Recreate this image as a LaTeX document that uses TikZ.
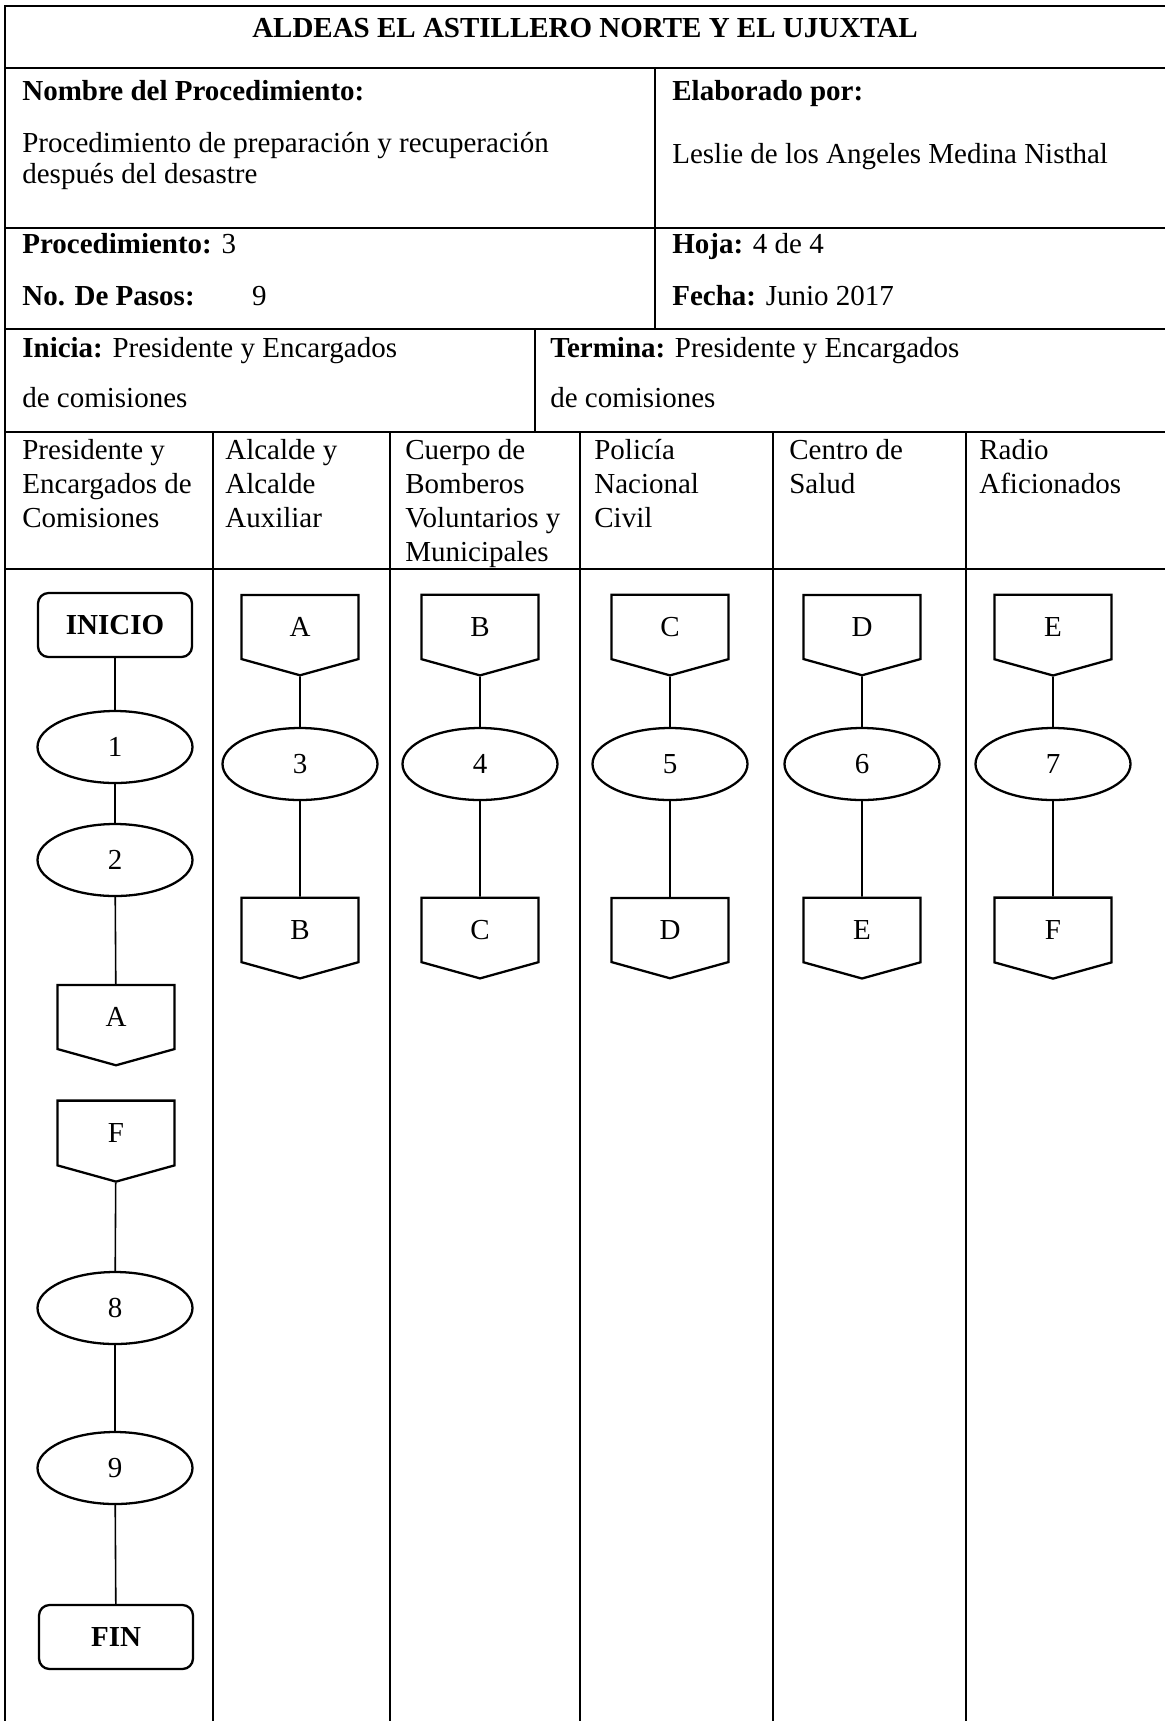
\documentclass[tikz,border=0pt]{standalone}
\usepackage{fontspec}
\setmainfont{Liberation Serif}
\usetikzlibrary{positioning,shapes.geometric,shapes.symbols}
\tikzset{
  cellline/.style={line width=.9pt},
  celltext/.style={anchor=base west,inner sep=0pt},
  celltop/.style={anchor=north west,inner sep=0pt,align=left},
  stepoval/.style={draw,ellipse,line width=1.3pt,minimum width=3.1cm,minimum height=1.44cm,inner sep=0pt},
  termbox/.style={draw,rectangle,rounded corners=6pt,line width=1.3pt,minimum width=3.08cm,minimum height=1.28cm,inner sep=0pt,font=\bfseries\fontsize{16.5}{19.4}\selectfont},
  pageref/.style={draw,signal,signal to=south,signal pointer angle=149,line width=1.3pt,minimum width=2.34cm,minimum height=1.34cm,inner sep=0pt},
  link/.style={line width=.9pt},
}

\begin{document}
\begin{tikzpicture}[x=0.2mm,y=-0.2mm,every node/.style={font=\fontsize{16.5}{19.4}\selectfont}]
  \useasboundingbox (0,0) rectangle (1165,1721);

  % table rules
  \draw[cellline] (1165,6) -- (5,6) -- (5,1721);
  \draw[cellline] (5,68) -- (1165,68);
  \draw[cellline] (5,228) -- (1165,228);
  \draw[cellline] (5,329) -- (1165,329);
  \draw[cellline] (5,432) -- (1165,432);
  \draw[cellline] (5,569) -- (1165,569);
  \draw[cellline] (655,68) -- (655,329);
  \draw[cellline] (535,329) -- (535,432);
  \draw[cellline] (213,432) -- (213,1721);
  \draw[cellline] (390,432) -- (390,1721);
  \draw[cellline] (580,432) -- (580,1721);
  \draw[cellline] (773,432) -- (773,1721);
  \draw[cellline] (966,432) -- (966,1721);

  % header texts
  \node[anchor=base,inner sep=0pt] (title) at (585,37) {\textbf{ALDEAS EL ASTILLERO NORTE Y EL UJUXTAL}};
  \node[celltext] (nombre) at (22,100) {\textbf{Nombre del Procedimiento:}};
  \node[celltop,font=\fontsize{16.5}{17.6}\selectfont] (nombretxt) at (22,132)
    {Procedimiento de preparación y recuperación\\después del desastre};
  \node[celltext] (elab) at (672,100) {\textbf{Elaborado por:}};
  \node[celltext] (elabtxt) at (672,163) {Leslie de los Angeles Medina Nisthal};
  \node[celltext] (proc) at (22,253) {\textbf{Procedimiento:} 3};
  \node[celltext] (pasos) at (22,305) {\textbf{No. De Pasos:}\hspace{1.15cm}9};
  \node[celltext] (hoja) at (672,253) {\textbf{Hoja:} 4 de 4};
  \node[celltext] (fecha) at (672,305) {\textbf{Fecha:} Junio 2017};
  \node[celltop] (inicia) at (22,337) {\textbf{Inicia:} Presidente y Encargados\\[9pt]de comisiones};
  \node[celltop] (termina) at (550,337) {\textbf{Termina:} Presidente y Encargados\\[9pt]de comisiones};

  % lane titles
  \node[celltop] (lane1) at (22,439) {Presidente y\\Encargados de\\Comisiones};
  \node[celltop] (lane2) at (225,439) {Alcalde y\\Alcalde\\Auxiliar};
  \node[celltop] (lane3) at (405,439) {Cuerpo de\\Bomberos\\Voluntarios y\\Municipales};
  \node[celltop] (lane4) at (594,439) {Policía\\Nacional\\Civil};
  \node[celltop] (lane5) at (789,439) {Centro de\\Salud};
  \node[celltop] (lane6) at (979,439) {Radio\\Aficionados};

  % lane 1
  \node[termbox] (inicio) at (115,625) {INICIO};
  \node[stepoval] (s1) at (115,747) {1};
  \node[stepoval] (s2) at (115,860) {2};
  \node[pageref] (offA) at (116,1017) {A};
  \node[pageref] (inF) at (116,1133) {F};
  \node[stepoval] (s8) at (115,1308) {8};
  \node[stepoval] (s9) at (115,1468) {9};
  \node[termbox] (fin) at (116,1637) {FIN};

  % lanes 2 to 6
  \node[pageref] (inA) at (300,627) {A};
  \node[stepoval] (s3) at (300,764) {3};
  \node[pageref] (offB) at (300,930) {B};

  \node[pageref] (inB) at (480,627) {B};
  \node[stepoval] (s4) at (480,764) {4};
  \node[pageref] (offC) at (480,930) {C};

  \node[pageref] (inC) at (670,627) {C};
  \node[stepoval] (s5) at (670,764) {5};
  \node[pageref] (offD) at (670,930) {D};

  \node[pageref] (inD) at (862,627) {D};
  \node[stepoval] (s6) at (862,764) {6};
  \node[pageref] (offE) at (862,930) {E};

  \node[pageref] (inE) at (1053,627) {E};
  \node[stepoval] (s7) at (1053,764) {7};
  \node[pageref] (offF) at (1053,930) {F};

  % connectors
  \draw[link] (inicio) -- (s1);
  \draw[link] (s1) -- (s2);
  \draw[link] (s2) -- (offA);
  \draw[link] (inF) -- (s8);
  \draw[link] (s8) -- (s9);
  \draw[link] (s9) -- (fin);
  \draw[link] (inA) -- (s3) -- (offB);
  \draw[link] (inB) -- (s4) -- (offC);
  \draw[link] (inC) -- (s5) -- (offD);
  \draw[link] (inD) -- (s6) -- (offE);
  \draw[link] (inE) -- (s7) -- (offF);
\end{tikzpicture}
\end{document}
